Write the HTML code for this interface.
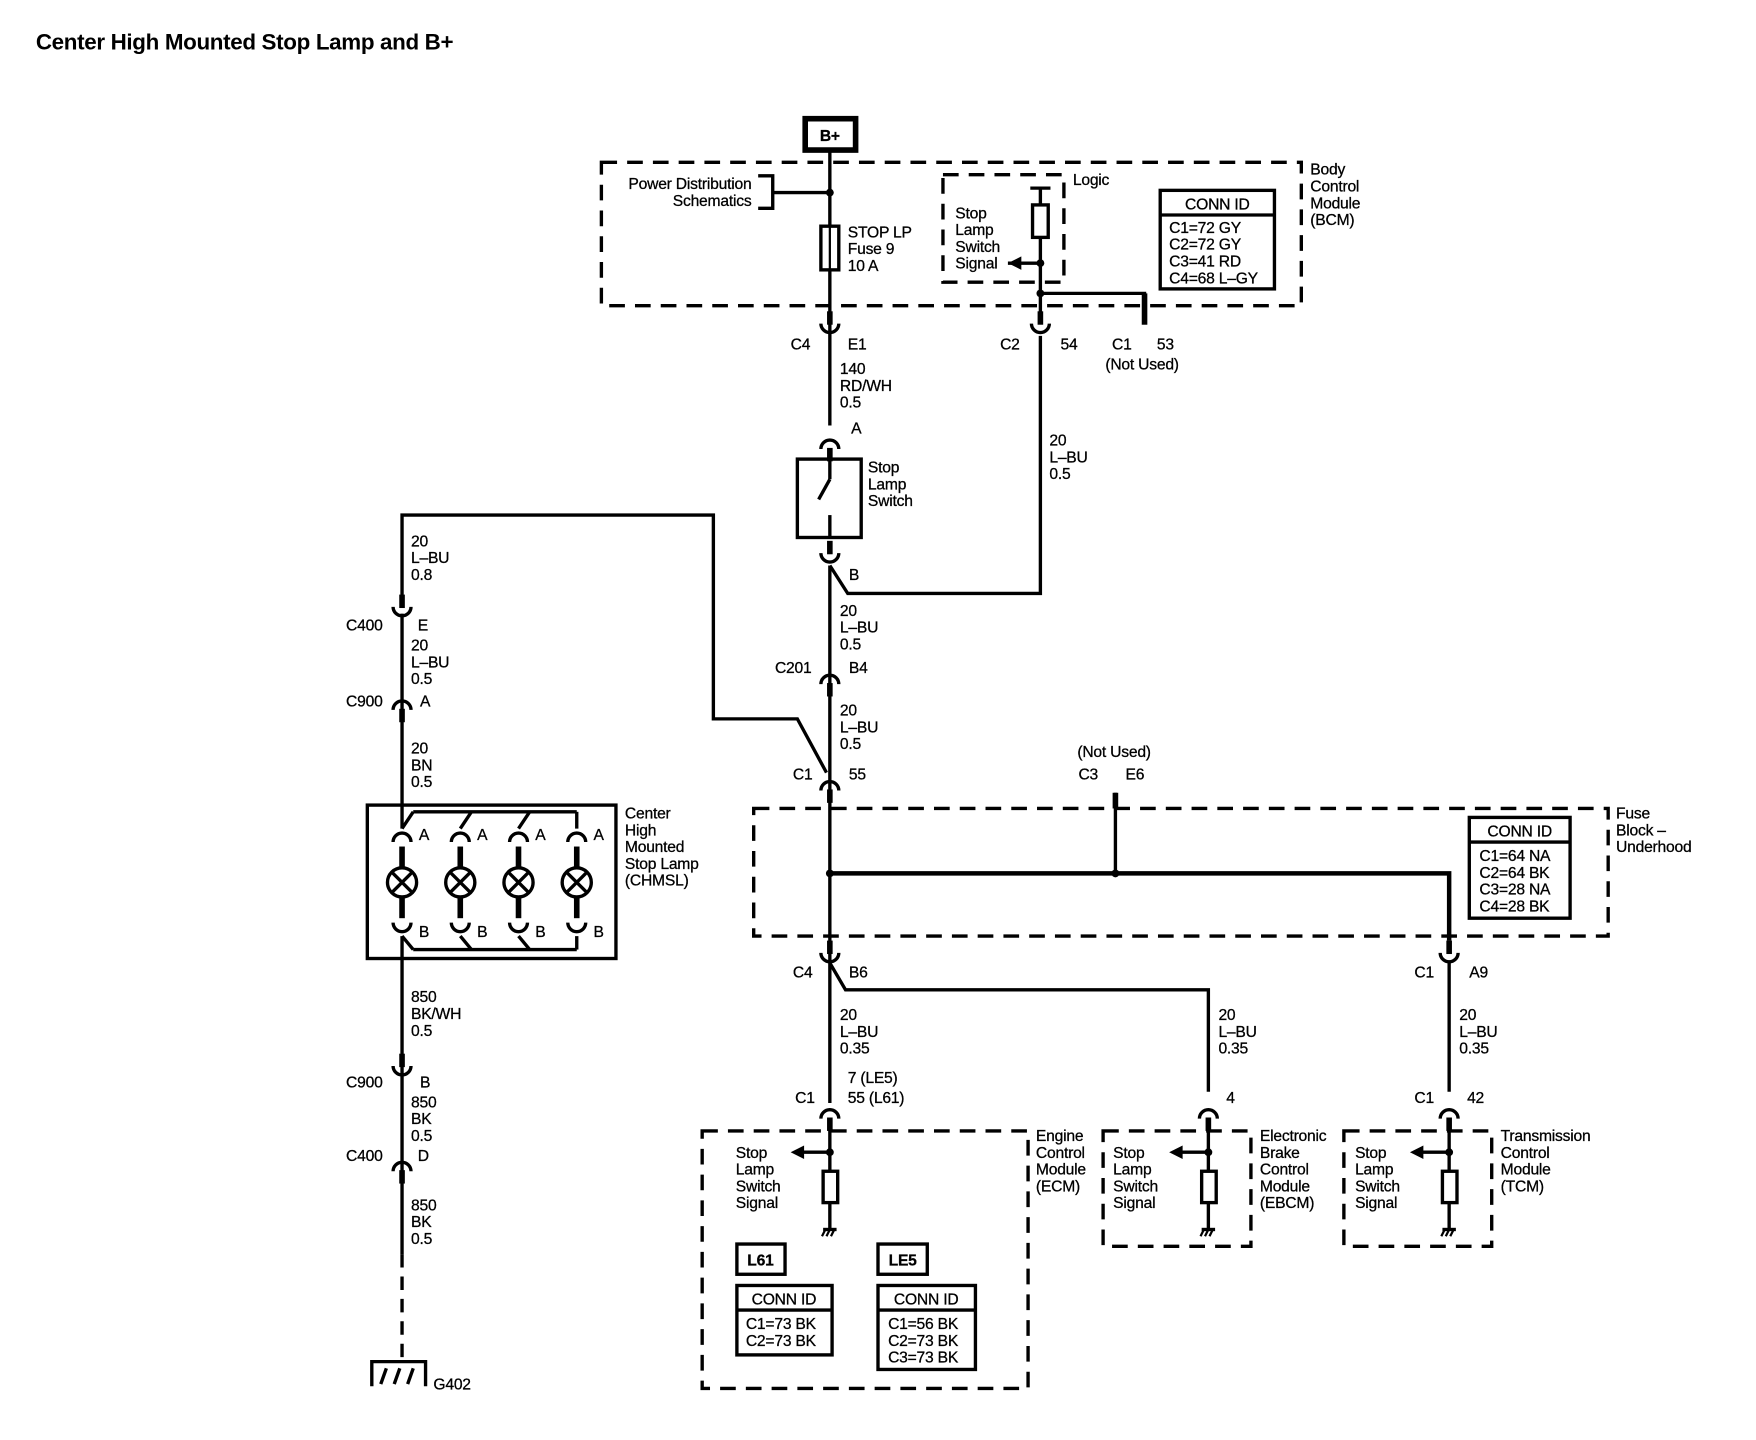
<!DOCTYPE html>
<html><head><meta charset="utf-8"><style>
html,body{margin:0;padding:0;background:#fff;}
svg{display:block;}
text{font-family:"Liberation Sans",Arial,sans-serif;font-size:14px;fill:#000;letter-spacing:-0.2px;stroke:#000;stroke-width:0.25px;}
.b{font-weight:bold;}
</style></head><body>
<svg width="1756" height="1440" viewBox="0 0 1568 1286" preserveAspectRatio="none" xmlns="http://www.w3.org/2000/svg">
<defs>
<g id="cu" fill="none" stroke="#000"><line x1="0" y1="-17" x2="0" y2="-5" stroke-width="5"/><path d="M-8,-6 A8,8 0 0,0 8,-6" stroke-width="3"/></g>
<g id="ca" fill="none" stroke="#000"><path d="M-8,6 A8,8 0 0,1 8,6" stroke-width="3"/><line x1="0" y1="5" x2="0" y2="17" stroke-width="5"/></g>
<g id="gnd" stroke="#000" stroke-width="2"><line x1="-6" y1="0" x2="6" y2="0" stroke-width="3"/><line x1="-4" y1="0" x2="-7" y2="6"/><line x1="0" y1="0" x2="-3" y2="6"/><line x1="4" y1="0" x2="1" y2="6"/></g>
</defs>
<text x="32" y="44" class="b" style="font-size:20px;letter-spacing:-0.3px;stroke-width:0">Center High Mounted Stop Lamp and B+</text>

<g fill="none" stroke="#000">
<rect x="719" y="106" width="45" height="28" stroke-width="5"/>
<g stroke-width="3" stroke-dasharray="14,9">
<rect x="537" y="145" width="625" height="128"/>
<rect x="842" y="156" width="108" height="96"/>
<rect x="673" y="722" width="763" height="114"/>
<rect x="627" y="1010" width="291" height="230"/>
<rect x="985" y="1010" width="132" height="103"/>
<rect x="1200" y="1010" width="132" height="103"/>
</g>
<g stroke-width="3">
<line x1="741" y1="135" x2="741" y2="380"/>
<line x1="741" y1="505" x2="741" y2="985"/>
<polyline points="741,505 757,530 929,530 929,300"/>
<line x1="929" y1="168" x2="929" y2="285"/>
<line x1="920" y1="168" x2="938" y2="168"/>
<line x1="690" y1="172" x2="741" y2="172"/>
<polyline points="677,157 690,157 690,186 677,186"/>
<line x1="900" y1="235" x2="929" y2="235"/>
<polyline points="929,262 1022,262 1022,280"/>
<polyline points="359,540 359,460 637,460 637,642 712,642 738,690"/>
<line x1="359" y1="548" x2="359" y2="740"/>
<line x1="359" y1="836" x2="359" y2="1120"/>
<line x1="359" y1="1120" x2="359" y2="1212" stroke-dasharray="12,8"/>
<polyline points="741,860 755,884 1079,884 1079,975"/>
<line x1="1294" y1="860" x2="1294" y2="975"/>
<line x1="741" y1="1000" x2="741" y2="1098"/>
<line x1="1079" y1="1000" x2="1079" y2="1098"/>
<line x1="1294" y1="1000" x2="1294" y2="1098"/>
<line x1="715" y1="1029" x2="741" y2="1029"/>
<line x1="1053" y1="1029" x2="1079" y2="1029"/>
<line x1="1268" y1="1029" x2="1294" y2="1029"/>
<rect x="712" y="410" width="57" height="70"/>
<line x1="741" y1="410" x2="741" y2="428"/>
<line x1="741" y1="460" x2="741" y2="480"/>
<line x1="731" y1="446" x2="741" y2="428"/>
</g>
<line x1="1022" y1="262" x2="1022" y2="290" stroke-width="5"/>
<polyline points="741,780 1294,780 1294,840" stroke-width="4"/>
<line x1="996" y1="708" x2="996" y2="780" stroke-width="3"/>
<line x1="996" y1="708" x2="996" y2="722" stroke-width="5"/>
<rect x="733" y="202" width="16" height="39" stroke-width="3" fill="#fff"/>
<line x1="741" y1="202" x2="741" y2="241" stroke-width="2"/>
<rect x="922" y="183" width="14" height="29" stroke-width="3" fill="#fff"/>
<rect x="735" y="1046" width="13" height="28" stroke-width="3" fill="#fff"/>
<rect x="1073" y="1046" width="13" height="28" stroke-width="3" fill="#fff"/>
<rect x="1288" y="1046" width="13" height="28" stroke-width="3" fill="#fff"/>
<g stroke-width="3">
<rect x="1036" y="170" width="102" height="88"/><line x1="1036" y1="192" x2="1138" y2="192"/>
<rect x="1312" y="730" width="90" height="90"/><line x1="1312" y1="752" x2="1402" y2="752"/>
<rect x="658" y="1111" width="43" height="27"/>
<rect x="784" y="1111" width="44" height="27"/>
<rect x="658" y="1148" width="85" height="62"/><line x1="658" y1="1170" x2="743" y2="1170"/>
<rect x="784" y="1148" width="87" height="75"/><line x1="784" y1="1170" x2="871" y2="1170"/>
<rect x="328" y="719" width="222" height="137"/>
<line x1="369" y1="725" x2="515" y2="725"/>
<line x1="515" y1="725" x2="515" y2="740"/>
<line x1="359" y1="740" x2="369" y2="725"/>
<line x1="411" y1="740" x2="421" y2="725"/>
<line x1="463" y1="740" x2="473" y2="725"/>
<line x1="369" y1="848" x2="515" y2="848"/>
<line x1="515" y1="836" x2="515" y2="848"/>
<line x1="359" y1="836" x2="369" y2="848"/>
<line x1="411" y1="836" x2="421" y2="848"/>
<line x1="463" y1="836" x2="473" y2="848"/>
</g>
<g stroke-width="3">
<circle cx="359" cy="788" r="13"/><circle cx="411" cy="788" r="13"/><circle cx="463" cy="788" r="13"/><circle cx="515" cy="788" r="13"/>
<path d="M350,779 L368,797 M368,779 L350,797 M402,779 L420,797 M420,779 L402,797 M454,779 L472,797 M472,779 L454,797 M506,779 L524,797 M524,779 L506,797"/>
</g>
<g stroke-width="3"><polyline points="332,1238 332,1216 380,1216 380,1238"/>
<line x1="345" y1="1222" x2="340" y2="1236"/><line x1="357" y1="1222" x2="352" y2="1236"/><line x1="369" y1="1222" x2="364" y2="1236"/></g>
</g>
<g stroke="#000" stroke-width="5">
<line x1="359" y1="756" x2="359" y2="775"/><line x1="411" y1="756" x2="411" y2="775"/><line x1="463" y1="756" x2="463" y2="775"/><line x1="515" y1="756" x2="515" y2="775"/>
<line x1="359" y1="801" x2="359" y2="820"/><line x1="411" y1="801" x2="411" y2="820"/><line x1="463" y1="801" x2="463" y2="820"/><line x1="515" y1="801" x2="515" y2="820"/>
</g>
<g fill="none" stroke="#000" stroke-width="3">
<path d="M351,752 A8,8 0 0,1 367,752 M403,752 A8,8 0 0,1 419,752 M455,752 A8,8 0 0,1 471,752 M507,752 A8,8 0 0,1 523,752"/>
<path d="M351,824 A8,8 0 0,0 367,824 M403,824 A8,8 0 0,0 419,824 M455,824 A8,8 0 0,0 471,824 M507,824 A8,8 0 0,0 523,824"/>
</g>
<g fill="#000">
<circle cx="741" cy="172" r="3.5"/><circle cx="929" cy="235" r="3.5"/><circle cx="929" cy="262" r="3.5"/>
<circle cx="741" cy="780" r="3.5"/><circle cx="996" cy="780" r="3.5"/>
<circle cx="741" cy="1029" r="3.5"/><circle cx="1079" cy="1029" r="3.5"/><circle cx="1294" cy="1029" r="3.5"/>
<polygon points="900,235 912,229 912,241"/>
<polygon points="706,1029 718,1023 718,1035"/>
<polygon points="1044,1029 1056,1023 1056,1035"/>
<polygon points="1259,1029 1271,1023 1271,1035"/>
</g>
<use href="#gnd" x="741" y="1098"/><use href="#gnd" x="1079" y="1098"/><use href="#gnd" x="1294" y="1098"/>
<use href="#cu" x="741" y="295"/><use href="#cu" x="929" y="295"/>
<use href="#ca" x="741" y="395"/><use href="#cu" x="741" y="500"/>
<use href="#ca" x="741" y="605"/><use href="#ca" x="741" y="700"/>
<use href="#cu" x="359" y="548"/><use href="#ca" x="359" y="628"/>
<use href="#cu" x="359" y="958"/><use href="#ca" x="359" y="1040"/>
<use href="#cu" x="741" y="857"/><use href="#cu" x="1294" y="857"/>
<use href="#ca" x="741" y="993"/><use href="#ca" x="1079" y="993"/><use href="#ca" x="1294" y="993"/>

<text x="741" y="126" class="b" text-anchor="middle">B+</text>
<text x="671" y="169" text-anchor="end">Power Distribution</text>
<text x="671" y="184" text-anchor="end">Schematics</text>
<text x="757" y="212">STOP LP</text><text x="757" y="227">Fuse 9</text><text x="757" y="242">10 A</text>
<text x="958" y="165">Logic</text>
<text x="853" y="195">Stop</text><text x="853" y="210">Lamp</text><text x="853" y="225">Switch</text><text x="853" y="240">Signal</text>
<text x="1087" y="187" text-anchor="middle">CONN ID</text>
<text x="1044" y="208">C1=72 GY</text><text x="1044" y="223">C2=72 GY</text><text x="1044" y="238">C3=41 RD</text><text x="1044" y="253">C4=68 L–GY</text>
<text x="1170" y="156">Body</text><text x="1170" y="171">Control</text><text x="1170" y="186">Module</text><text x="1170" y="201">(BCM)</text>
<text x="706" y="312">C4</text><text x="757" y="312">E1</text>
<text x="893" y="312">C2</text><text x="947" y="312">54</text>
<text x="993" y="312">C1</text><text x="1033" y="312">53</text><text x="987" y="330">(Not Used)</text>
<text x="750" y="334">140</text><text x="750" y="349">RD/WH</text><text x="750" y="364">0.5</text>
<text x="760" y="387">A</text>
<text x="775" y="422">Stop</text><text x="775" y="437">Lamp</text><text x="775" y="452">Switch</text>
<text x="937" y="398">20</text><text x="937" y="413">L–BU</text><text x="937" y="428">0.5</text>
<text x="758" y="518">B</text>
<text x="750" y="550">20</text><text x="750" y="565">L–BU</text><text x="750" y="580">0.5</text>
<text x="692" y="601">C201</text><text x="758" y="601">B4</text>
<text x="750" y="639">20</text><text x="750" y="654">L–BU</text><text x="750" y="669">0.5</text>
<text x="708" y="696">C1</text><text x="758" y="696">55</text>
<text x="367" y="488">20</text><text x="367" y="503">L–BU</text><text x="367" y="518">0.8</text>
<text x="309" y="563">C400</text><text x="373" y="563">E</text>
<text x="367" y="581">20</text><text x="367" y="596">L–BU</text><text x="367" y="611">0.5</text>
<text x="309" y="631">C900</text><text x="375" y="631">A</text>
<text x="367" y="673">20</text><text x="367" y="688">BN</text><text x="367" y="703">0.5</text>
<text x="374" y="750">A</text><text x="426" y="750">A</text><text x="478" y="750">A</text><text x="530" y="750">A</text>
<text x="374" y="837">B</text><text x="426" y="837">B</text><text x="478" y="837">B</text><text x="530" y="837">B</text>
<text x="558" y="731">Center</text><text x="558" y="746">High</text><text x="558" y="761">Mounted</text><text x="558" y="776">Stop Lamp</text><text x="558" y="791">(CHMSL)</text>
<text x="367" y="895">850</text><text x="367" y="910">BK/WH</text><text x="367" y="925">0.5</text>
<text x="309" y="971">C900</text><text x="375" y="971">B</text>
<text x="367" y="989">850</text><text x="367" y="1004">BK</text><text x="367" y="1019">0.5</text>
<text x="309" y="1037">C400</text><text x="373" y="1037">D</text>
<text x="367" y="1081">850</text><text x="367" y="1096">BK</text><text x="367" y="1111">0.5</text>
<text x="387" y="1241">G402</text>
<text x="962" y="676">(Not Used)</text><text x="963" y="696">C3</text><text x="1005" y="696">E6</text>
<text x="1443" y="731">Fuse</text><text x="1443" y="746">Block –</text><text x="1443" y="761">Underhood</text>
<text x="1357" y="747" text-anchor="middle">CONN ID</text>
<text x="1321" y="769">C1=64 NA</text><text x="1321" y="784">C2=64 BK</text><text x="1321" y="799">C3=28 NA</text><text x="1321" y="814">C4=28 BK</text>
<text x="708" y="873">C4</text><text x="758" y="873">B6</text>
<text x="1263" y="873">C1</text><text x="1312" y="873">A9</text>
<text x="750" y="911">20</text><text x="750" y="926">L–BU</text><text x="750" y="941">0.35</text>
<text x="1088" y="911">20</text><text x="1088" y="926">L–BU</text><text x="1088" y="941">0.35</text>
<text x="1303" y="911">20</text><text x="1303" y="926">L–BU</text><text x="1303" y="941">0.35</text>
<text x="757" y="967">7 (LE5)</text><text x="757" y="985">55 (L61)</text><text x="710" y="985">C1</text>
<text x="1095" y="985">4</text>
<text x="1263" y="985">C1</text><text x="1310" y="985">42</text>
<text x="657" y="1034">Stop</text><text x="657" y="1049">Lamp</text><text x="657" y="1064">Switch</text><text x="657" y="1079">Signal</text>
<text x="925" y="1019">Engine</text><text x="925" y="1034">Control</text><text x="925" y="1049">Module</text><text x="925" y="1064">(ECM)</text>
<text x="994" y="1034">Stop</text><text x="994" y="1049">Lamp</text><text x="994" y="1064">Switch</text><text x="994" y="1079">Signal</text>
<text x="1125" y="1019">Electronic</text><text x="1125" y="1034">Brake</text><text x="1125" y="1049">Control</text><text x="1125" y="1064">Module</text><text x="1125" y="1079">(EBCM)</text>
<text x="1210" y="1034">Stop</text><text x="1210" y="1049">Lamp</text><text x="1210" y="1064">Switch</text><text x="1210" y="1079">Signal</text>
<text x="1340" y="1019">Transmission</text><text x="1340" y="1034">Control</text><text x="1340" y="1049">Module</text><text x="1340" y="1064">(TCM)</text>
<text x="679" y="1130" text-anchor="middle" class="b">L61</text><text x="806" y="1130" text-anchor="middle" class="b">LE5</text>
<text x="700" y="1165" text-anchor="middle">CONN ID</text><text x="827" y="1165" text-anchor="middle">CONN ID</text>
<text x="666" y="1187">C1=73 BK</text><text x="666" y="1202">C2=73 BK</text>
<text x="793" y="1187">C1=56 BK</text><text x="793" y="1202">C2=73 BK</text><text x="793" y="1217">C3=73 BK</text>
</svg>
</body></html>
